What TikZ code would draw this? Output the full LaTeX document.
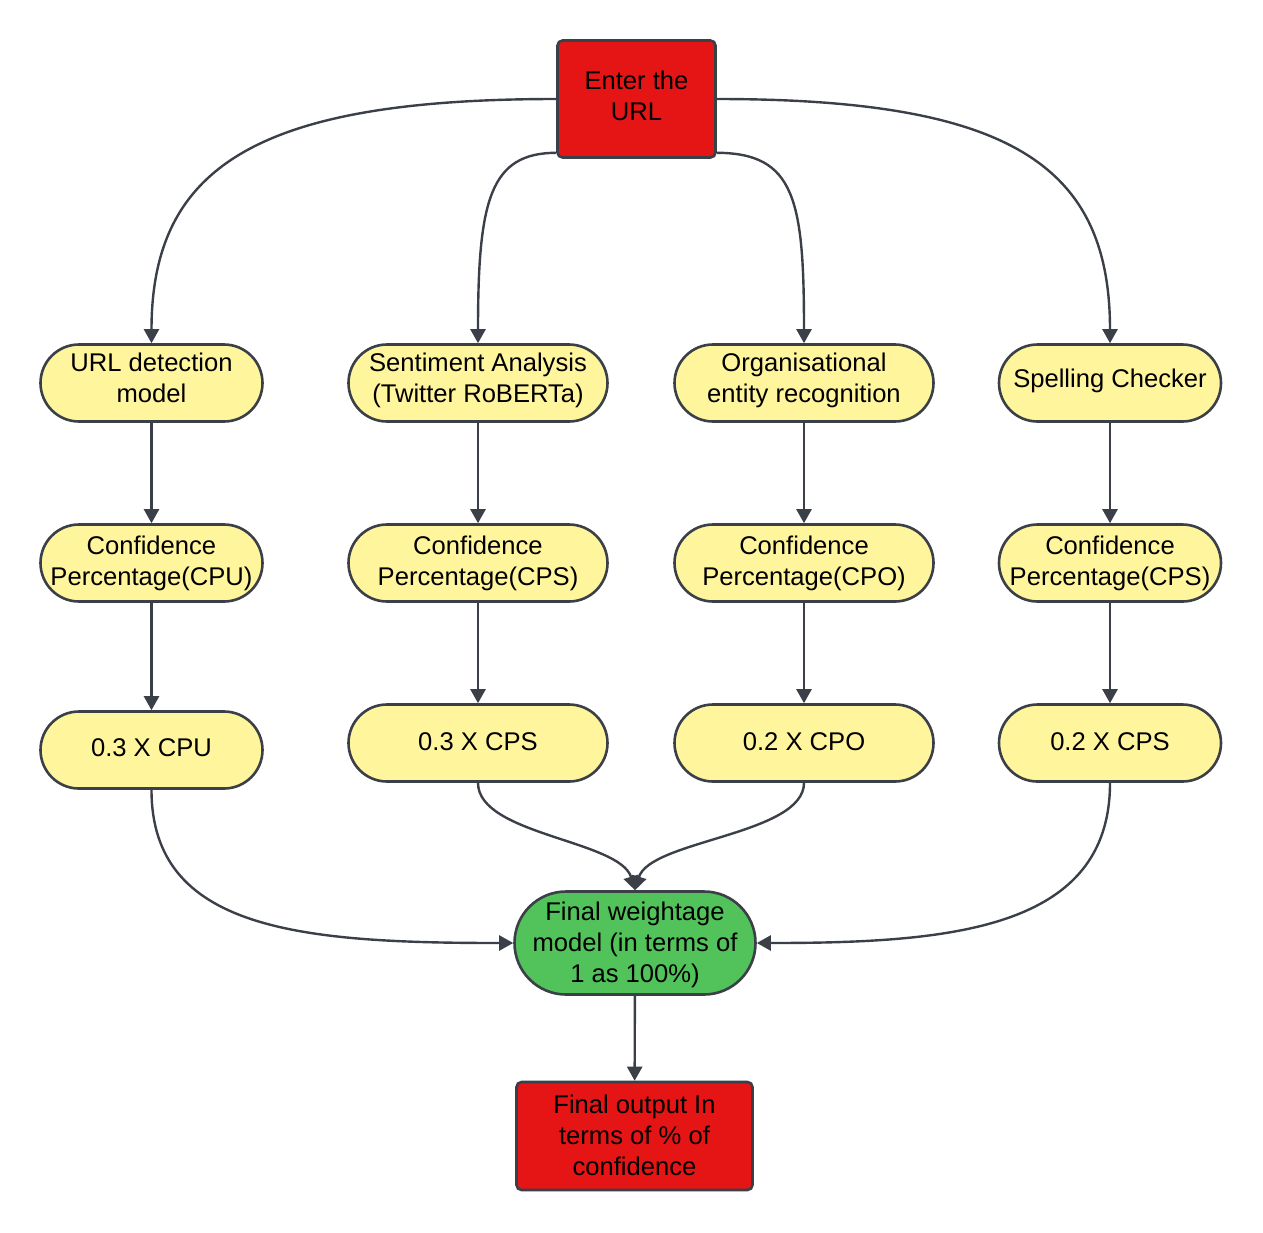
\documentclass[tikz,border=0pt]{standalone}
\usepackage{fontspec}
\setmainfont{Liberation Sans}
\usetikzlibrary{arrows.meta}
\definecolor{edge}{HTML}{3A3F48}
\definecolor{redfill}{HTML}{E51515}
\definecolor{yellowfill}{HTML}{FFF59D}
\definecolor{greenfill}{HTML}{52C35A}
\newcommand{\txt}[2][0pt]{\raisebox{#1}[\height][\depth]{\begin{tabular}{@{}c@{}}#2\end{tabular}}}
\begin{document}
\begin{tikzpicture}[x=1pt,y=-1pt,
  every node/.style={font=\fontsize{25.6}{31}\selectfont, inner sep=0pt},
  redbox/.style={draw=edge, line width=2.6pt, fill=redfill, rounded corners=5pt},
  pill/.style={draw=edge, line width=2.6pt, fill=yellowfill, minimum height=77pt, rounded corners=38.5pt},
  narrow/.style={pill, minimum width=222pt},
  wide/.style={pill, minimum width=259pt},
  greenpill/.style={draw=edge, line width=2.6pt, fill=greenfill, minimum width=241pt, minimum height=103pt, rounded corners=51.5pt},
  conn/.style={draw=edge, line width=2.4pt, -{Triangle[width=15pt,length=14pt]}}
]
\useasboundingbox (0,0) rectangle (1263,1232);

\node[redbox, minimum width=158pt, minimum height=117pt] (top) at (636.5,99) {\txt[0pt]{Enter the\\URL}};

\node[narrow] (a1) at (151.5,383) {\txt[2pt]{URL detection\\model}};
\node[wide]   (b1) at (478,383) {\txt[2pt]{Sentiment Analysis\\(Twitter RoBERTa)}};
\node[wide]   (c1) at (804,383) {\txt[2pt]{Organisational\\entity recognition}};
\node[narrow] (d1) at (1110,383) {\txt[2pt]{Spelling Checker}};

\node[narrow] (a2) at (151.5,563) {\txt[-1pt]{Confidence\\Percentage(CPU)}};
\node[wide]   (b2) at (478,563) {\txt[-1pt]{Confidence\\Percentage(CPS)}};
\node[wide]   (c2) at (804,563) {\txt[-1pt]{Confidence\\Percentage(CPO)}};
\node[narrow] (d2) at (1110,563) {\txt[-1pt]{Confidence\\Percentage(CPS)}};

\node[narrow] (a3) at (151.5,750) {\txt[0pt]{0.3 X CPU}};
\node[wide]   (b3) at (478,743) {\txt[-1.5pt]{0.3 X CPS}};
\node[wide]   (c3) at (804,743) {\txt[-1.5pt]{0.2 X CPO}};
\node[narrow] (d3) at (1110,743) {\txt[-1.5pt]{0.2 X CPS}};

\node[greenpill] (fw) at (635,943) {\txt[-2pt]{Final weightage\\model (in terms of\\1 as 100\%)}};
\node[redbox, minimum width=236pt, minimum height=108pt] (fo) at (634.5,1136) {\txt[-2pt]{Final output In\\terms of \% of\\confidence}};

% top connectors
\draw[conn] (top.west) .. controls (260,99) and (151.5,165) .. (a1.north);
\draw[conn] ([yshift=6pt]top.south west) .. controls (490,153) and (478,200) .. (b1.north);
\draw[conn] ([yshift=6pt]top.south east) .. controls (795,153) and (804,200) .. (c1.north);
\draw[conn] (top.east) .. controls (1010,99) and (1110,165) .. (d1.north);

% verticals
\draw[conn] (a1) -- (a2);
\draw[conn] (b1) -- (b2);
\draw[conn] (c1) -- (c2);
\draw[conn] (d1) -- (d2);
\draw[conn] (a2) -- (a3);
\draw[conn] (b2) -- (b3);
\draw[conn] (c2) -- (c3);
\draw[conn] (d2) -- (d3);

% bottom connectors
\draw[conn] (a3.south) .. controls (151.5,930) and (300,943) .. (fw.west);
\draw[conn] (d3.south) .. controls (1110,930) and (950,943) .. (fw.east);
\draw[conn] (b3.south) .. controls (478,835) and (620,840) .. (fw.north);
\draw[conn] (c3.south) .. controls (804,835) and (650,840) .. (fw.north);

\draw[conn] (fw) -- (fo);
\end{tikzpicture}
\end{document}
